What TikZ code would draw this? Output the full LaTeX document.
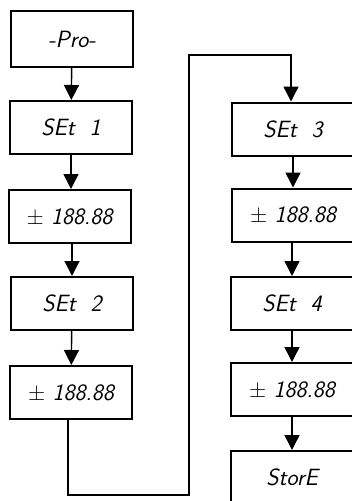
\documentclass[tikz,border=0pt]{standalone}
\usepackage{fontspec}
\usetikzlibrary{arrows.meta}
\begin{document}
\begin{tikzpicture}[x=1pt,y=-1pt,
  disp/.style={draw, line width=2pt, minimum width=122pt, minimum height=53pt, inner sep=0pt,
    font=\fontsize{23.5}{28}\selectfont\sffamily\slshape},
  arr/.style={line width=1.4pt, -{Triangle[length=15pt,width=15pt]}}]
\clip (0,0) rectangle (352,501);
\useasboundingbox (0,0) rectangle (352,501);
% left column
\node[disp, minimum height=56pt] (pro) at (72,39) {-Pro-};
\node[disp] (s1) at (71,127.5) {SEt\ \ 1};
\node[disp] (v1) at (69.5,216.5) {{\upshape\textpm}\ 188.88};
\node[disp] (s2) at (72,303.5) {SEt\ \ 2};
\node[disp] (v2) at (71,392.5) {{\upshape\textpm}\ 188.88};
% right column
\node[disp] (s3) at (293,129) {SEt\ \ 3};
\node[disp] (v3) at (293,215) {{\upshape\textpm}\ 188.88};
\node[disp] (s4) at (292,303.5) {SEt\ \ 4};
\node[disp] (v4) at (292,389.5) {{\upshape\textpm}\ 188.88};
\node[disp] (st) at (292,477.5) {StorE};
% arrows
\draw[arr] (pro) -- (s1);
\draw[arr] (s1) -- (v1.north -| s1);
\draw[arr] (v1.south -| s2) -- (s2);
\draw[arr] (s2) -- (v2);
\draw[arr] (s3) -- (v3);
\draw[arr] (v3.south -| s4) -- (s4);
\draw[arr] (s4) -- (v4);
\draw[arr] (v4) -- (st);
% long connector
\coordinate (c1) at (189,495);
\coordinate (c2) at (189,55);
\coordinate (c3) at (291,55);
\draw[arr] ([xshift=-3pt]v2.south) |- (c1) -- (c2) -- (c3) -- (c3 |- s3.north);
\end{tikzpicture}
\end{document}
